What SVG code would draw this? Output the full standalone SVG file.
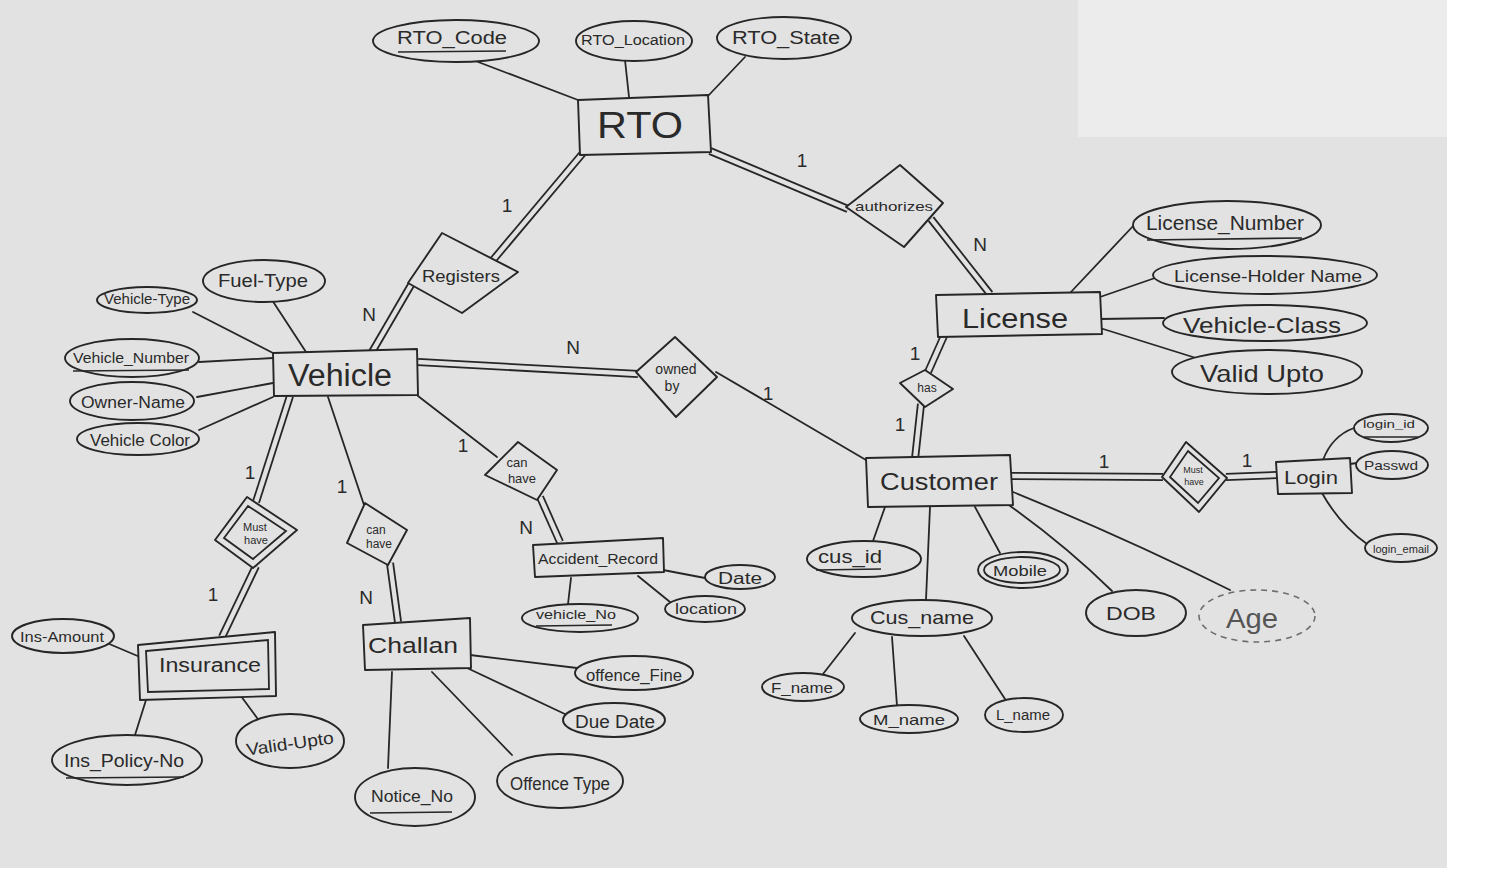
<svg xmlns="http://www.w3.org/2000/svg" xmlns:xlink="http://www.w3.org/1999/xlink" width="1494" height="885" viewBox="0 0 1494 885">
  <style>
    .ln { fill: none; stroke: #262626; stroke-width: 1.8; stroke-linecap: round; stroke-linejoin: round; }
    .node { fill: #e2e2e2; stroke: #262626; stroke-width: 1.9; stroke-linejoin: round; }
    .inner { fill: none; stroke: #262626; stroke-width: 1.8; }
    .dashed { fill: #e2e2e2; stroke: #6e6e6e; stroke-width: 1.6; stroke-dasharray: 6 5; }
    .dbl-out { fill: none; stroke: #262626; stroke-width: 8; }
    .dbl-in { fill: none; stroke: #e2e2e2; stroke-width: 4.4; }
    .ul { stroke: #262626; stroke-width: 1.6; }
    text { font-family: "Liberation Sans", Arial, sans-serif; fill: #2a2a2a; text-anchor: middle; dominant-baseline: central; }
    .card { font-size: 19px; }
  </style>
  <defs>
    <!-- centre lines of the double (total participation) connectors -->
    <path id="d-rto-reg" d="M583,153 L493,260"/>
    <path id="d-reg-veh" d="M411,285 L372,352"/>
    <path id="d-rto-auth" d="M710,151 L848,209"/>
    <path id="d-auth-lic" d="M931,219 L990,294"/>
    <path id="d-veh-own" d="M418,362 L638,374"/>
    <path id="d-lic-has" d="M944,336 L928,372"/>
    <path id="d-has-cus" d="M921,404 L915,459"/>
    <path id="d-cus-must" d="M1012,476 L1163,477"/>
    <path id="d-must-login" d="M1226,477 L1277,475"/>
    <path id="d-veh-must" d="M290,396 L256,502"/>
    <path id="d-must-ins" d="M256,566 L222,637"/>
    <path id="d-can-chal" d="M390,563 L398,622"/>
    <path id="d-can-acc" d="M540,497 L560,542"/>
  </defs>

  <!-- paper -->
  <rect x="0" y="0" width="1494" height="885" fill="#ffffff"/>
  <rect x="0" y="0" width="1447" height="868" fill="#e2e2e2"/>
  <rect x="1078" y="0" width="369" height="137" fill="#ececec"/>

  <g id="connectors">
    <!-- double lines -->
    <use xlink:href="#d-rto-reg" class="dbl-out"/><use xlink:href="#d-rto-reg" class="dbl-in"/>
    <use xlink:href="#d-reg-veh" class="dbl-out"/><use xlink:href="#d-reg-veh" class="dbl-in"/>
    <use xlink:href="#d-rto-auth" class="dbl-out"/><use xlink:href="#d-rto-auth" class="dbl-in"/>
    <use xlink:href="#d-auth-lic" class="dbl-out"/><use xlink:href="#d-auth-lic" class="dbl-in"/>
    <use xlink:href="#d-veh-own" class="dbl-out"/><use xlink:href="#d-veh-own" class="dbl-in"/>
    <use xlink:href="#d-lic-has" class="dbl-out"/><use xlink:href="#d-lic-has" class="dbl-in"/>
    <use xlink:href="#d-has-cus" class="dbl-out"/><use xlink:href="#d-has-cus" class="dbl-in"/>
    <use xlink:href="#d-cus-must" class="dbl-out"/><use xlink:href="#d-cus-must" class="dbl-in"/>
    <use xlink:href="#d-must-login" class="dbl-out"/><use xlink:href="#d-must-login" class="dbl-in"/>
    <use xlink:href="#d-veh-must" class="dbl-out"/><use xlink:href="#d-veh-must" class="dbl-in"/>
    <use xlink:href="#d-must-ins" class="dbl-out"/><use xlink:href="#d-must-ins" class="dbl-in"/>
    <use xlink:href="#d-can-chal" class="dbl-out"/><use xlink:href="#d-can-chal" class="dbl-in"/>
    <use xlink:href="#d-can-acc" class="dbl-out"/><use xlink:href="#d-can-acc" class="dbl-in"/>

    <!-- single lines between entities and relationships -->
    <path class="ln" d="M716,372 L866,460"/>
    <path class="ln" d="M328,397 L364,505"/>
    <path class="ln" d="M418,396 L497,457"/>

    <!-- RTO attributes -->
    <path class="ln" d="M473,60 L578,100"/>
    <path class="ln" d="M625,60 L629,97"/>
    <path class="ln" d="M745,57 L708,96"/>
    <!-- Vehicle attributes -->
    <path class="ln" d="M193,312 L273,353"/>
    <path class="ln" d="M272,300 L306,352"/>
    <path class="ln" d="M199,362 L273,358"/>
    <path class="ln" d="M197,397 L273,383"/>
    <path class="ln" d="M199,430 L273,397"/>
    <!-- License attributes -->
    <path class="ln" d="M1070,293 L1135,224"/>
    <path class="ln" d="M1100,297 L1155,278"/>
    <path class="ln" d="M1100,319 L1164,318"/>
    <path class="ln" d="M1100,328 L1196,358"/>
    <!-- Login attributes -->
    <path class="ln" d="M1323,460 Q1332,436 1354,428"/>
    <path class="ln" d="M1350,464 L1357,463"/>
    <path class="ln" d="M1322,493 Q1340,525 1367,544"/>
    <!-- Customer attributes -->
    <path class="ln" d="M885,507 L873,541"/>
    <path class="ln" d="M930,507 L926,600"/>
    <path class="ln" d="M975,507 L1000,553"/>
    <path class="ln" d="M1006,503 Q1065,545 1112,591"/>
    <path class="ln" d="M1013,492 Q1130,540 1230,590"/>
    <path class="ln" d="M855,633 L823,674"/>
    <path class="ln" d="M892,637 L897,706"/>
    <path class="ln" d="M964,636 L1005,699"/>
    <!-- Insurance attributes -->
    <path class="ln" d="M107,643 L140,657"/>
    <path class="ln" d="M135,735 L146,700"/>
    <path class="ln" d="M260,722 L238,692"/>
    <!-- Challan attributes -->
    <path class="ln" d="M470,655 L577,668"/>
    <path class="ln" d="M465,667 L567,715"/>
    <path class="ln" d="M432,672 L512,755"/>
    <path class="ln" d="M392,672 L388,768"/>
    <!-- Accident_Record attributes -->
    <path class="ln" d="M663,570 L705,578"/>
    <path class="ln" d="M638,576 L670,602"/>
    <path class="ln" d="M571,578 L568,604"/>

    <!-- cardinalities -->
    <text class="card" x="507" y="205">1</text>
    <text class="card" x="369" y="314">N</text>
    <text class="card" x="802" y="160">1</text>
    <text class="card" x="980" y="244">N</text>
    <text class="card" x="573" y="347">N</text>
    <text class="card" x="768" y="393">1</text>
    <text class="card" x="915" y="353">1</text>
    <text class="card" x="900" y="424">1</text>
    <text class="card" x="1104" y="461">1</text>
    <text class="card" x="1247" y="460">1</text>
    <text class="card" x="250" y="472">1</text>
    <text class="card" x="213" y="594">1</text>
    <text class="card" x="342" y="486">1</text>
    <text class="card" x="366" y="597">N</text>
    <text class="card" x="463" y="445">1</text>
    <text class="card" x="526" y="527">N</text>
  </g>

  <!-- RTO -->
  <g id="rto">
    <polygon class="node" points="578,100 708,95 711,152 580,155"/>
    <text x="640" y="125" font-size="36" textLength="86" lengthAdjust="spacingAndGlyphs">RTO</text>
  </g>
  <g id="rto-code">
    <ellipse class="node" cx="456" cy="41" rx="83" ry="21"/>
    <text x="452" y="38" font-size="18" textLength="110" lengthAdjust="spacingAndGlyphs">RTO_Code</text>
    <line class="ul" x1="398" y1="52" x2="506" y2="51"/>
  </g>
  <g id="rto-location">
    <ellipse class="node" cx="634" cy="41" rx="58" ry="20"/>
    <text x="633" y="40" font-size="14" textLength="104" lengthAdjust="spacingAndGlyphs">RTO_Location</text>
  </g>
  <g id="rto-state">
    <ellipse class="node" cx="784" cy="38" rx="67" ry="21"/>
    <text x="786" y="38" font-size="18" textLength="108" lengthAdjust="spacingAndGlyphs">RTO_State</text>
  </g>

  <!-- Registers -->
  <g id="registers">
    <polygon class="node" points="442,233 518,272 462,313 408,283"/>
    <text x="461" y="276" font-size="17" textLength="78" lengthAdjust="spacingAndGlyphs">Registers</text>
  </g>

  <!-- authorizes -->
  <g id="authorizes">
    <polygon class="node" points="900,165 943,203 904,247 846,207"/>
    <text x="894" y="206" font-size="13" textLength="78" lengthAdjust="spacingAndGlyphs">authorizes</text>
  </g>

  <!-- License -->
  <g id="license">
    <polygon class="node" points="936,295 1100,292 1102,334 938,337"/>
    <text x="1015" y="318" font-size="28" textLength="106" lengthAdjust="spacingAndGlyphs">License</text>
  </g>
  <g id="license-number">
    <ellipse class="node" cx="1227" cy="225" rx="94" ry="24"/>
    <text x="1225" y="223" font-size="20" textLength="158" lengthAdjust="spacingAndGlyphs">License_Number</text>
    <line class="ul" x1="1147" y1="240" x2="1302" y2="238"/>
  </g>
  <g id="license-holder-name">
    <ellipse class="node" cx="1265" cy="275" rx="112" ry="19"/>
    <text x="1268" y="276" font-size="16" textLength="188" lengthAdjust="spacingAndGlyphs">License-Holder Name</text>
  </g>
  <g id="vehicle-class">
    <ellipse class="node" cx="1265" cy="323" rx="102" ry="18"/>
    <text x="1262" y="325" font-size="22" textLength="158" lengthAdjust="spacingAndGlyphs">Vehicle-Class</text>
  </g>
  <g id="license-valid-upto">
    <ellipse class="node" cx="1267" cy="372" rx="95" ry="22"/>
    <text x="1262" y="373" font-size="24" textLength="124" lengthAdjust="spacingAndGlyphs">Valid Upto</text>
  </g>

  <!-- has -->
  <g id="has">
    <polygon class="node" points="925,370 953,389 925,407 900,383"/>
    <text x="927" y="388" font-size="12">has</text>
  </g>

  <!-- Vehicle -->
  <g id="vehicle">
    <polygon class="node" points="273,353 417,349 418,395 274,396"/>
    <text x="340" y="375" font-size="31" textLength="104" lengthAdjust="spacingAndGlyphs">Vehicle</text>
  </g>
  <g id="vehicle-type">
    <ellipse class="node" cx="147" cy="300" rx="50" ry="13"/>
    <text x="147" y="299" font-size="14" textLength="86" lengthAdjust="spacingAndGlyphs">Vehicle-Type</text>
  </g>
  <g id="fuel-type">
    <ellipse class="node" cx="264" cy="281" rx="61" ry="21"/>
    <text x="263" y="280" font-size="19" textLength="90" lengthAdjust="spacingAndGlyphs">Fuel-Type</text>
  </g>
  <g id="vehicle-number">
    <ellipse class="node" cx="132" cy="358" rx="67" ry="19"/>
    <text x="131" y="357" font-size="15" textLength="116" lengthAdjust="spacingAndGlyphs">Vehicle_Number</text>
    <line class="ul" x1="73" y1="371" x2="189" y2="370"/>
  </g>
  <g id="owner-name">
    <ellipse class="node" cx="132" cy="401" rx="62" ry="19"/>
    <text x="133" y="402" font-size="16" textLength="104" lengthAdjust="spacingAndGlyphs">Owner-Name</text>
  </g>
  <g id="vehicle-color">
    <ellipse class="node" cx="138" cy="439" rx="61" ry="16"/>
    <text x="140" y="440" font-size="16" textLength="100" lengthAdjust="spacingAndGlyphs">Vehicle Color</text>
  </g>

  <!-- owned by -->
  <g id="owned-by">
    <polygon class="node" points="675,337 717,377 676,417 636,372"/>
    <text x="676" y="369" font-size="14">owned</text>
    <text x="672" y="386" font-size="14">by</text>
  </g>

  <!-- Customer -->
  <g id="customer">
    <polygon class="node" points="866,458 1010,455 1013,505 868,507"/>
    <text x="939" y="481" font-size="24" textLength="118" lengthAdjust="spacingAndGlyphs">Customer</text>
  </g>
  <g id="cus-id">
    <ellipse class="node" cx="864" cy="559" rx="57" ry="18"/>
    <text x="850" y="556" font-size="19" textLength="64" lengthAdjust="spacingAndGlyphs">cus_id</text>
    <line class="ul" x1="816" y1="570" x2="881" y2="569"/>
  </g>
  <g id="mobile">
    <ellipse class="node" cx="1023" cy="570" rx="45" ry="18"/>
    <ellipse class="inner" cx="1022" cy="570" rx="38" ry="13"/>
    <text x="1020" y="570" font-size="15" textLength="54" lengthAdjust="spacingAndGlyphs">Mobile</text>
  </g>
  <g id="cus-name">
    <ellipse class="node" cx="922" cy="618" rx="70" ry="18"/>
    <text x="922" y="617" font-size="19" textLength="104" lengthAdjust="spacingAndGlyphs">Cus_name</text>
  </g>
  <g id="dob">
    <ellipse class="node" cx="1136" cy="613" rx="50" ry="23"/>
    <text x="1131" y="613" font-size="19" textLength="50" lengthAdjust="spacingAndGlyphs">DOB</text>
  </g>
  <g id="age">
    <ellipse class="dashed" cx="1257" cy="616" rx="58" ry="26"/>
    <text x="1252" y="618" font-size="28" style="fill:#555555" textLength="52" lengthAdjust="spacingAndGlyphs">Age</text>
  </g>
  <g id="f-name">
    <ellipse class="node" cx="803" cy="687" rx="41" ry="14"/>
    <text x="802" y="687" font-size="15" textLength="62" lengthAdjust="spacingAndGlyphs">F_name</text>
  </g>
  <g id="m-name">
    <ellipse class="node" cx="909" cy="719" rx="49" ry="14"/>
    <text x="909" y="719" font-size="15" textLength="72" lengthAdjust="spacingAndGlyphs">M_name</text>
  </g>
  <g id="l-name">
    <ellipse class="node" cx="1024" cy="715" rx="39" ry="17"/>
    <text x="1023" y="715" font-size="14" textLength="54" lengthAdjust="spacingAndGlyphs">L_name</text>
  </g>

  <!-- Must have (Customer - Login) -->
  <g id="must-have-login">
    <polygon class="node" points="1186,442 1227,478 1199,512 1162,477"/>
    <polygon class="inner" points="1188,451 1219,478 1198,503 1170,477"/>
    <text x="1193" y="470" font-size="9">Must</text>
    <text x="1194" y="482" font-size="9">have</text>
  </g>

  <!-- Login -->
  <g id="login">
    <polygon class="node" points="1276,462 1350,458 1352,493 1278,494"/>
    <text x="1311" y="478" font-size="18" textLength="54" lengthAdjust="spacingAndGlyphs">Login</text>
  </g>
  <g id="login-id">
    <ellipse class="node" cx="1391" cy="428" rx="37" ry="14"/>
    <text x="1389" y="424" font-size="11" textLength="52" lengthAdjust="spacingAndGlyphs">login_id</text>
    <line class="ul" x1="1364" y1="437" x2="1418" y2="437"/>
  </g>
  <g id="passwd">
    <ellipse class="node" cx="1392" cy="465" rx="36" ry="14"/>
    <text x="1391" y="465" font-size="13" textLength="54" lengthAdjust="spacingAndGlyphs">Passwd</text>
  </g>
  <g id="login-email">
    <ellipse class="node" cx="1401" cy="548" rx="36" ry="14"/>
    <text x="1401" y="549" font-size="10" textLength="56" lengthAdjust="spacingAndGlyphs">login_email</text>
  </g>

  <!-- can have (Vehicle - Accident_Record) -->
  <g id="can-have-accident">
    <polygon class="node" points="518,442 557,470 537,500 485,475"/>
    <text x="517" y="462" font-size="13">can</text>
    <text x="522" y="478" font-size="13">have</text>
  </g>

  <!-- Accident_Record -->
  <g id="accident-record">
    <polygon class="node" points="533,545 663,538 664,572 535,577"/>
    <text x="598" y="558" font-size="15" textLength="120" lengthAdjust="spacingAndGlyphs">Accident_Record</text>
  </g>
  <g id="accident-date">
    <ellipse class="node" cx="740" cy="577" rx="35" ry="12"/>
    <text x="740" y="578" font-size="16" textLength="44" lengthAdjust="spacingAndGlyphs">Date</text>
  </g>
  <g id="accident-location">
    <ellipse class="node" cx="705" cy="609" rx="40" ry="13"/>
    <text x="706" y="609" font-size="14" textLength="62" lengthAdjust="spacingAndGlyphs">location</text>
  </g>
  <g id="accident-vehicle-no">
    <ellipse class="node" cx="580" cy="618" rx="58" ry="14"/>
    <text x="576" y="614" font-size="13" textLength="80" lengthAdjust="spacingAndGlyphs">vehicle_No</text>
    <line class="ul" x1="536" y1="626" x2="612" y2="625"/>
  </g>

  <!-- can have (Vehicle - Challan) -->
  <g id="can-have-challan">
    <polygon class="node" points="365,503 407,530 388,565 347,543"/>
    <text x="376" y="530" font-size="12">can</text>
    <text x="379" y="544" font-size="12">have</text>
  </g>

  <!-- Challan -->
  <g id="challan">
    <polygon class="node" points="363,625 470,618 471,668 365,670"/>
    <text x="413" y="645" font-size="22" textLength="90" lengthAdjust="spacingAndGlyphs">Challan</text>
  </g>
  <g id="offence-fine">
    <ellipse class="node" cx="634" cy="673" rx="59" ry="17"/>
    <text x="634" y="675" font-size="16" textLength="96" lengthAdjust="spacingAndGlyphs">offence_Fine</text>
  </g>
  <g id="due-date">
    <ellipse class="node" cx="614" cy="720" rx="51" ry="17"/>
    <text x="615" y="722" font-size="18" textLength="80" lengthAdjust="spacingAndGlyphs">Due Date</text>
  </g>
  <g id="offence-type">
    <ellipse class="node" cx="560" cy="781" rx="63" ry="27"/>
    <text x="560" y="784" font-size="18" textLength="100" lengthAdjust="spacingAndGlyphs">Offence Type</text>
  </g>
  <g id="notice-no">
    <ellipse class="node" cx="415" cy="797" rx="60" ry="29"/>
    <text x="412" y="796" font-size="17" textLength="82" lengthAdjust="spacingAndGlyphs">Notice_No</text>
    <line class="ul" x1="370" y1="813" x2="452" y2="812"/>
  </g>

  <!-- Must have (Vehicle - Insurance) -->
  <g id="must-have-insurance">
    <polygon class="node" points="247,497 297,530 253,568 215,540"/>
    <polygon class="inner" points="248,506 286,531 253,559 224,538"/>
    <text x="255" y="527" font-size="11">Must</text>
    <text x="256" y="540" font-size="11">have</text>
  </g>

  <!-- Insurance (weak entity) -->
  <g id="insurance">
    <polygon class="node" points="138,645 275,632 276,696 140,700"/>
    <polygon class="inner" points="146,651 268,640 269,689 148,692"/>
    <text x="210" y="665" font-size="20" textLength="102" lengthAdjust="spacingAndGlyphs">Insurance</text>
  </g>
  <g id="ins-amount">
    <ellipse class="node" cx="63" cy="636" rx="51" ry="17"/>
    <text x="62" y="636" font-size="15" textLength="84" lengthAdjust="spacingAndGlyphs">Ins-Amount</text>
  </g>
  <g id="ins-policy-no">
    <ellipse class="node" cx="127" cy="760" rx="75" ry="25"/>
    <text x="124" y="761" font-size="18" textLength="120" lengthAdjust="spacingAndGlyphs">Ins_Policy-No</text>
    <line class="ul" x1="66" y1="778" x2="184" y2="777"/>
  </g>
  <g id="ins-valid-upto">
    <ellipse class="node" cx="290" cy="741" rx="54" ry="27"/>
    <text x="290" y="744" font-size="17" textLength="88" lengthAdjust="spacingAndGlyphs" transform="rotate(-8 290 744)">Valid-Upto</text>
  </g>
</svg>
